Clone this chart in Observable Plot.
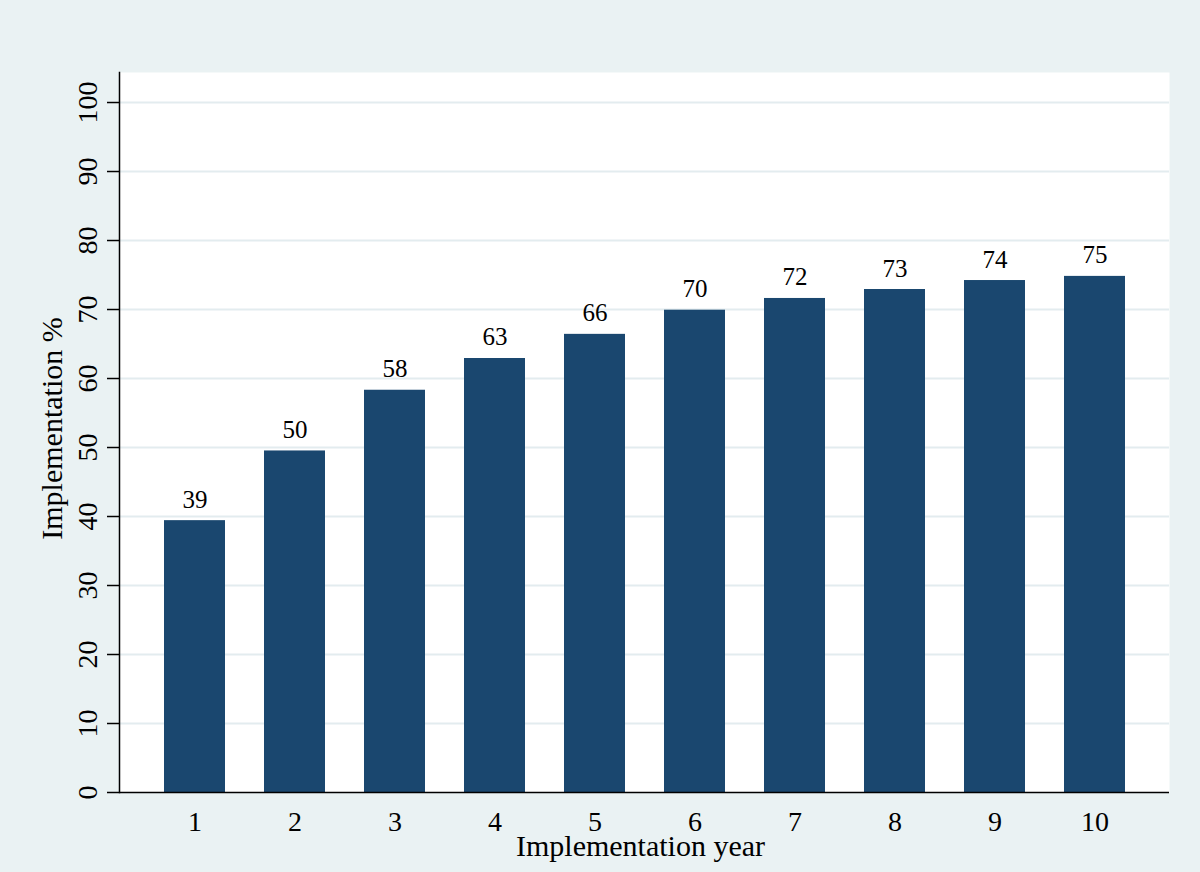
<!DOCTYPE html>
<html>
<head>
<meta charset="utf-8">
<script src="https://cdn.jsdelivr.net/npm/d3@7"></script>
<script src="https://cdn.jsdelivr.net/npm/@observablehq/plot@0.6"></script>
<style>
  html, body { margin: 0; padding: 0; background: #EAF2F3; }
  #chart { width: 1200px; height: 872px; }
</style>
</head>
<body>
<div id="chart"></div>
<script>
const years = [1, 2, 3, 4, 5, 6, 7, 8, 9, 10];
const implementation = [39.4, 49.5, 58.3, 62.9, 66.4, 69.9, 71.6, 72.9, 74.2, 74.8];
const barLabels = ["39", "50", "58", "63", "66", "70", "72", "73", "74", "75"];
const yTicks = [0, 10, 20, 30, 40, 50, 60, 70, 80, 90, 100];
const yDomain = [0, 104.35];
const xTitle = "Implementation year";
const yTitle = "Implementation %";

const data = years.map((y, i) => ({year: y, value: implementation[i], label: barLabels[i]}));

const serif = "'Liberation Serif', 'Times New Roman', 'DejaVu Serif', serif";

const chart = Plot.plot({
  width: 1200,
  height: 872,
  marginLeft: 119,
  marginRight: 31,
  marginTop: 72,
  marginBottom: 80,
  style: {background: "#EAF2F3", fontFamily: serif, color: "#000"},
  x: {type: "band", domain: years, paddingInner: 0.393, paddingOuter: 0.42, align: 0.5},
  y: {domain: yDomain},
  marks: [
    Plot.frame({fill: "white", stroke: null}),
    Plot.gridY(yTicks.slice(1), {stroke: "#E3ECEF", strokeOpacity: 1, strokeWidth: 2}),
    Plot.barY(data, {x: "year", y: "value", fill: "#1A476F"}),
    Plot.text(data, {x: "year", y: "value", text: "label", lineAnchor: "bottom", dy: -13, fontSize: 25, fontFamily: serif, fill: "#000"}),
    Plot.axisY(yTicks, {anchor: "left", tickSize: 12, tickPadding: 11, tickRotate: -90, fontSize: 28, fontFamily: serif, stroke: "#000", strokeWidth: 1.5, label: null, fill: "#000"}),
    Plot.axisX(years, {anchor: "bottom", tickSize: 0, tickPadding: 19, fontSize: 28, fontFamily: serif, label: null, fill: "#000"}),
    Plot.ruleY([0], {stroke: "#000", strokeWidth: 1.5}),
    Plot.frame({anchor: "left", stroke: "#000", strokeWidth: 1.5}),
    Plot.text([xTitle], {frameAnchor: "bottom", textAnchor: "middle", lineAnchor: "bottom", dy: 63, dx: -4, fontSize: 30, fontFamily: serif, fill: "#000"}),
    Plot.text([yTitle], {frameAnchor: "left", textAnchor: "middle", rotate: -90, dx: -67, dy: -4, fontSize: 30, fontFamily: serif, fill: "#000"})
  ]
});
document.getElementById("chart").appendChild(chart);
</script>
</body>
</html>
